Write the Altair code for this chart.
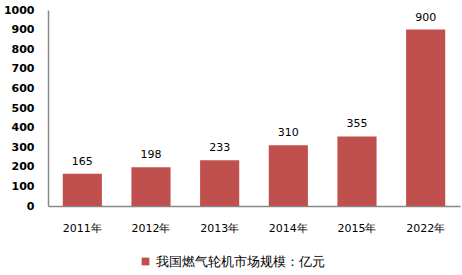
import altair as alt
import pandas as pd

years = ["2011年", "2012年", "2013年", "2014年", "2015年", "2022年"]
values = [165, 198, 233, 310, 355, 900]
series = ["我国燃气轮机市场规模：亿元"] * len(years)

df = pd.DataFrame({"year": years, "value": values, "series": series})

font = "DejaVu Sans"
base = alt.Chart(df).encode(
    x=alt.X("year:N", sort=years, title=None,
            scale=alt.Scale(paddingInner=0.43, paddingOuter=0.215),
            axis=alt.Axis(labelAngle=0, ticks=False, domainColor="#888888",
                          labelFont=font, labelFontSize=11, labelColor="#000000",
                          labelPadding=16, domainWidth=1.5)),
    y=alt.Y("value:Q", title=None,
            scale=alt.Scale(domain=[0, 1000], nice=False),
            axis=alt.Axis(values=list(range(0, 1001, 100)), format="d", ticks=False, grid=False,
                          domainColor="#888888", labelFont=font, labelFontSize=11,
                          labelColor="#000000", labelPadding=14, labelFontWeight="bold",
                          domainWidth=1.5)),
)

bars = base.mark_bar(color="#C0504D").encode(
    color=alt.Color("series:N", scale=alt.Scale(range=["#C0504D"]),
                    legend=alt.Legend(title=None, orient="none", legendX=91, legendY=245,
                                      symbolType="square", symbolSize=60,
                                      labelFont=font, labelFontSize=13, labelLimit=400,
                                      labelColor="#000000"))
)
labels = base.mark_text(dy=-12, font=font, fontSize=11, color="#000000").encode(
    text="value:Q"
)

chart = (bars + labels).properties(
    width=412, height=196,
    padding={"left": 48, "top": 10, "right": 2, "bottom": 69},
    autosize=alt.AutoSizeParams(type="none"),
).configure_view(stroke=None)

chart.save("out.html", embed_options={"renderer": "svg", "actions": False})
